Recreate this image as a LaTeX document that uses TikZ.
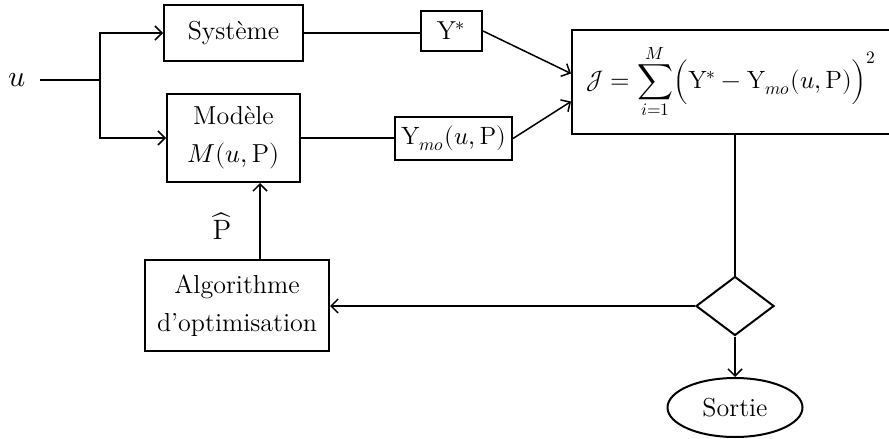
\documentclass[tikz,border=0pt]{standalone}
\usepackage{amsmath}
\usepackage{unicode-math}
\setmathfont{Latin Modern Math}
\usetikzlibrary{arrows.meta,shapes.geometric,calc}
\begin{document}
\begin{tikzpicture}[x=0.5pt,y=-0.5pt,
  txt/.style={font=\fontsize{13}{19}\selectfont},
  box/.style={draw,line width=1pt,inner sep=0pt,align=center,txt},
  conn/.style={line width=0.75pt},
  arr/.style={conn,-{Straight Barb[length=3.5pt,width=7pt]}},
  ]
\useasboundingbox (0,0) rectangle (889,439);
\node[font=\fontsize{15}{19}\selectfont,outer sep=4pt] (u) at (17,80) {$u$};
\node[box,minimum width=69.5pt,minimum height=28pt] (sys) at (233.5,33) {Système};
\node[box,minimum width=66.5pt,minimum height=44pt] (mod) at (233.5,138) {Modèle\\$M(u,\mathrm{P})$};
\node[box,minimum width=30.5pt,minimum height=20pt] (ys) at (451.5,31) {$\mathrm{Y}^{*}$};
\node[box,minimum width=58.5pt,minimum height=21.5pt,font=\fontsize{12.5}{15}\selectfont] (ymo) at (453.5,138.5) {$\mathrm{Y}_{mo}(u,\mathrm{P})$};
\node[box,minimum width=159.5pt,minimum height=52pt,font=\fontsize{12.5}{15}\selectfont] (J) at (731.5,81.5) {$\displaystyle \mathcal{J}=\sum_{i=1}^{M}\Bigl(\mathrm{Y}^{*}-\mathrm{Y}_{mo}(u,\mathrm{P})\Bigr)^{2}$};
\node[box,minimum width=92pt,minimum height=45.5pt] (alg) at (237,305.5) {Algorithme\\d'optimisation};
\node[draw,diamond,line width=1pt,minimum width=39pt,minimum height=29.5pt,inner sep=0pt] (dec) at (735,306) {};
\node[draw,ellipse,line width=1pt,minimum width=67.5pt,minimum height=29.5pt,inner sep=0pt,txt] (out) at (735,407.5) {Sortie};
\node[font=\fontsize{14}{18}\selectfont] (phat) at (222,226) {$\widehat{\mathrm{P}}$};
\coordinate (j) at (100,81);
\coordinate (Jin1) at ($(J.west)+(0,-8)$);
\coordinate (Jin2) at ($(J.west)+(0,20)$);
\coordinate (pa) at ($(alg.north)+(23,0)$);
\draw[conn] (u.east) -- (u.east -| j);
\draw[arr] (j) |- (sys.west);
\draw[arr] (j) |- (mod.west);
\draw[conn] (sys.east) -- (sys.east -| ys.west);
\draw[conn] (mod.east) -- (mod.east -| ymo.west);
\draw[arr] (ys.east) -- (Jin1);
\draw[arr] (ymo.east) -- (Jin2);
\draw[conn] (J.south -| dec.north) -- (dec.north);
\draw[arr] (dec.west) -- (dec.west -| alg.east);
\draw[arr] (dec.south) -- (out.north);
\draw[arr] (pa) -- (pa |- mod.south);
\end{tikzpicture}
\end{document}
